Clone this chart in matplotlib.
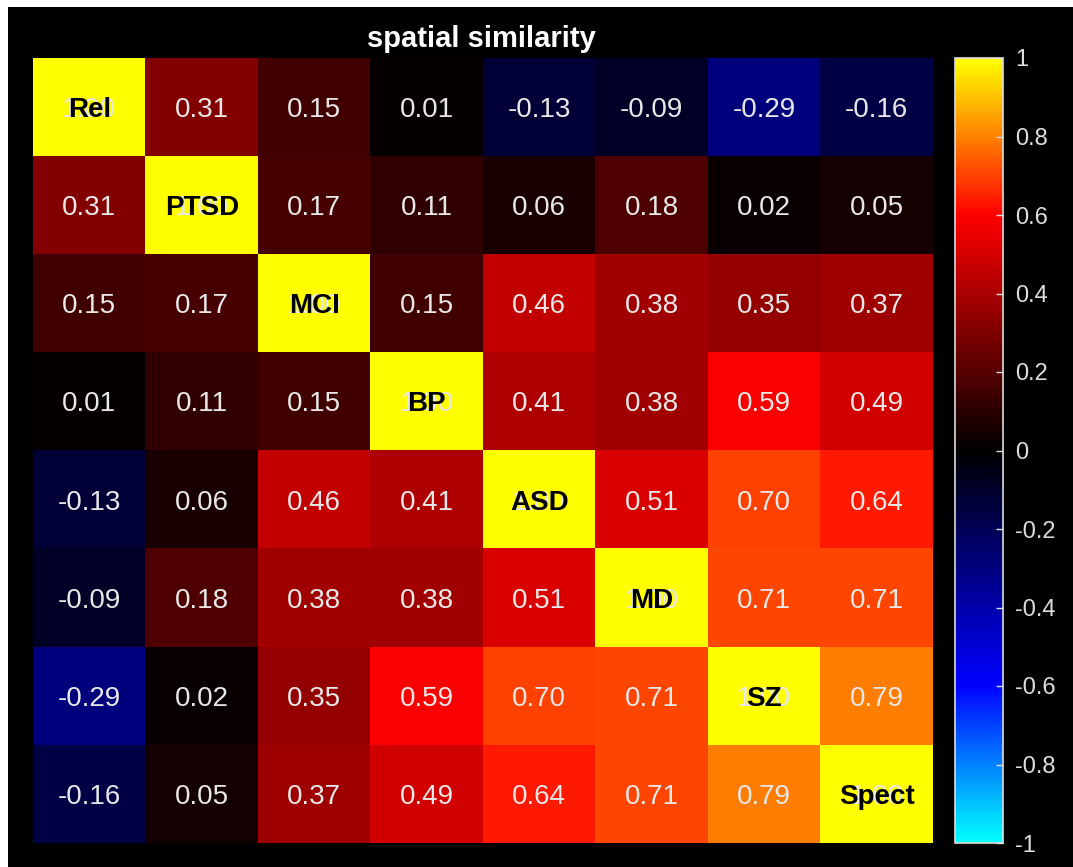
import numpy as np
import matplotlib
matplotlib.use("Agg")
import matplotlib.pyplot as plt
from matplotlib.colors import LinearSegmentedColormap
from matplotlib.patches import Rectangle

# ----------------------------
# DATA
# ----------------------------

labels = ["Rel", "PTSD", "MCI", "BP", "ASD", "MD", "SZ", "Spect"]

row_rel = [1.00, 0.31, 0.15, 0.01, -0.13, -0.09, -0.29, -0.16]
row_ptsd = [0.31, 1.00, 0.17, 0.11, 0.06, 0.18, 0.02, 0.05]
row_mci = [0.15, 0.17, 1.00, 0.15, 0.46, 0.38, 0.35, 0.37]
row_bp = [0.01, 0.11, 0.15, 1.00, 0.41, 0.38, 0.59, 0.49]
row_asd = [-0.13, 0.06, 0.46, 0.41, 1.00, 0.51, 0.70, 0.64]
row_md = [-0.09, 0.18, 0.38, 0.38, 0.51, 1.00, 0.71, 0.71]
row_sz = [-0.29, 0.02, 0.35, 0.59, 0.70, 0.71, 1.00, 0.79]
row_spect = [-0.16, 0.05, 0.37, 0.49, 0.64, 0.71, 0.79, 1.00]

cbar_ticks = [-1, -0.8, -0.6, -0.4, -0.2, 0, 0.2, 0.4, 0.6, 0.8, 1]

# ----------------------------
# COLORMAP (cyan - blue - black - red - yellow)
# ----------------------------

cmap = LinearSegmentedColormap.from_list(
    "coldhot",
    [(0.0, (0, 1, 1)), (0.2, (0, 0, 1)), (0.5, (0, 0, 0)),
     (0.8, (1, 0, 0)), (1.0, (1, 1, 0))])

# ----------------------------
# PLOT
# ----------------------------

plt.rcParams["font.family"] = ["Liberation Sans", "DejaVu Sans"]

mat = np.array([row_rel, row_ptsd, row_mci, row_bp,
                row_asd, row_md, row_sz, row_spect])
n = len(labels)

fig = plt.figure(figsize=(10.73, 8.67), dpi=100, facecolor="black")
# thin white margin on the left and top, as in the screenshot
fig.patches.append(Rectangle((0, 0), 8 / 1073, 1, transform=fig.transFigure,
                             facecolor="white", edgecolor="none", zorder=-10))
fig.patches.append(Rectangle((0, 1 - 7 / 867), 1, 7 / 867,
                             transform=fig.transFigure, facecolor="white",
                             edgecolor="none", zorder=-10))

ax = fig.add_axes([33 / 1073, 1 - 843 / 867, 900 / 1073, 785 / 867])
im = ax.imshow(mat, cmap=cmap, vmin=-1, vmax=1, aspect="auto",
               interpolation="nearest")
ax.set_xticks([])
ax.set_yticks([])
for s in ax.spines.values():
    s.set_visible(False)

for i in range(n):
    for j in range(n):
        ax.text(j, i, f"{mat[i, j]:.2f}", ha="center", va="center_baseline",
                color="#e8e8e8", fontsize=20)
        if i == j:
            ax.text(j, i, labels[i], ha="center", va="center_baseline",
                    color="black", fontsize=20, fontweight="bold")

fig.text(481 / 1073, 1 - 36 / 867, "spatial similarity", ha="center",
         va="center_baseline", color="white", fontsize=21, fontweight="bold")

cax = fig.add_axes([955 / 1073, 1 - 843 / 867, 48 / 1073, 785 / 867])
cb = fig.colorbar(im, cax=cax, ticks=cbar_ticks)
cb.ax.set_yticklabels([f"{t:g}" for t in cbar_ticks])
cb.outline.set_edgecolor("#dddddd")
cb.outline.set_linewidth(1.2)
cb.ax.tick_params(direction="in", color="#dddddd", labelcolor="#dddddd",
                  labelsize=17, length=5, width=1, pad=9)

fig.savefig("out.png", dpi=100, facecolor=fig.get_facecolor())
